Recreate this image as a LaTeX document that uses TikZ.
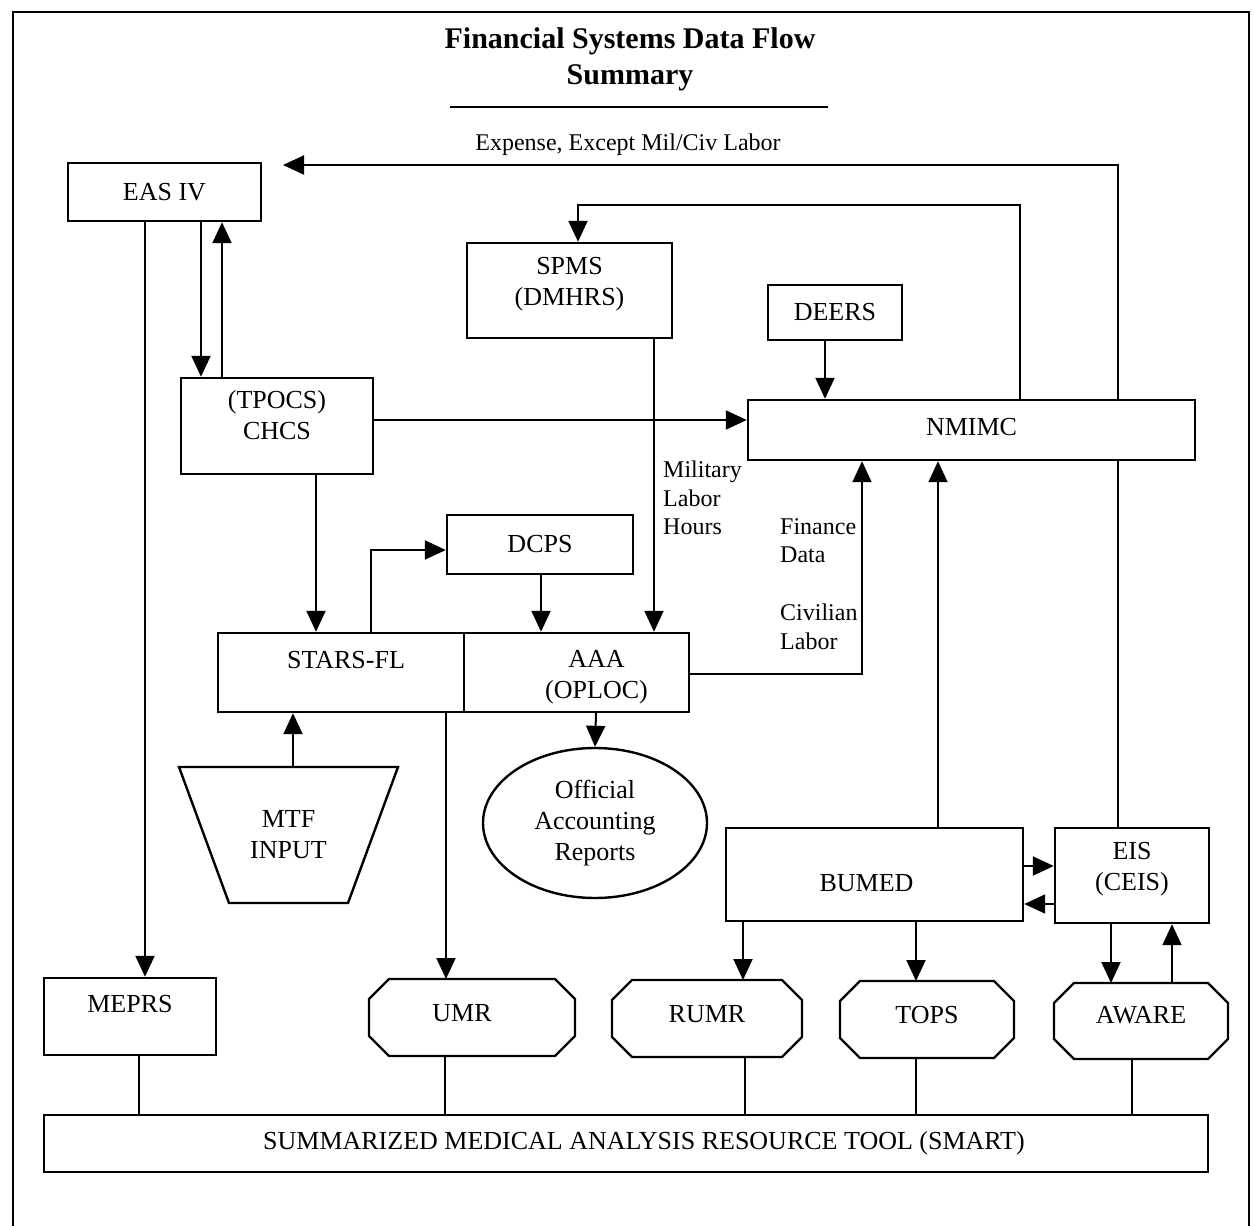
\documentclass[tikz,border=0pt]{standalone}
\usepackage{fontspec}
\setmainfont{Liberation Serif}
\usetikzlibrary{arrows.meta,shapes.geometric,backgrounds}
\newcommand\fnt{\fontsize{26}{31}\selectfont}
\newcommand\lfnt{\fontsize{24}{28.5}\selectfont}
\newcommand\octshape[1]{\draw[boxln] ([xshift=20pt]#1.north west) -- ([xshift=-20pt]#1.north east) -- ([yshift=-20pt]#1.north east) -- ([yshift=20pt]#1.south east) -- ([xshift=-20pt]#1.south east) -- ([xshift=20pt]#1.south west) -- ([yshift=20pt]#1.south west) -- ([yshift=-20pt]#1.north west) -- cycle;}
\begin{document}
\begin{tikzpicture}[x=1pt,y=-1pt,
  box/.style={draw, fill=white, line width=2.4pt, inner sep=0pt, align=center, font=\fnt},
  hid/.style={draw=none, inner sep=0pt, outer sep=0pt, align=center, font=\fnt},
  boxln/.style={line width=2.4pt},
  arr/.style={line width=2pt, -{Triangle[length=21pt,width=19pt]}},
  ln/.style={line width=2pt},
  lbl/.style={font=\lfnt, align=left, inner sep=0pt, anchor=north west}]
\useasboundingbox (0,0) rectangle (1254,1226);
% frame
\draw[line width=2.5pt] (13,1230) -- (13,12) -- (1249,12) -- (1249,1230);
% title
\node[font=\fontsize{30}{36}\selectfont\bfseries, anchor=base, inner sep=0pt] (t1) at (630,48) {Financial Systems Data Flow};
\node[font=\fontsize{30}{36}\selectfont\bfseries, anchor=base, inner sep=0pt] (t2) at (630,84) {Summary};
\draw[line width=2pt] (450,107) -- (828,107);
\node[font=\lfnt, inner sep=0pt] (explbl) at (628,145) {Expense, Except Mil/Civ Labor};

% boxes
\node[box, minimum width=193pt, minimum height=58pt] (eas) at (164.5,192) {EAS IV};
\node[box, minimum width=205pt, minimum height=95pt, text depth=18pt] (spms) at (569.5,290.5) {SPMS\\(DMHRS)};
\node[box, minimum width=134pt, minimum height=55pt] (deers) at (835,312.5) {DEERS};
\node[box, minimum width=447pt, minimum height=60pt, text depth=6pt] (nmimc) at (971.5,430) {NMIMC};
\node[box, minimum width=192pt, minimum height=96pt, text depth=22pt] (tpocs) at (277,426) {(TPOCS)\\CHCS};
\node[box, minimum width=186pt, minimum height=59pt] (dcps) at (540,544.5) {DCPS};
\node[box, minimum width=246pt, minimum height=79pt, text depth=26pt] (stars) at (341,672.5) {\hspace*{10pt}STARS-FL};
\node[box, minimum width=225pt, minimum height=79pt,
  label={[font=\fnt, align=center, inner sep=0pt, xshift=20pt, yshift=-5pt]center:AAA\\(OPLOC)}] (aaa) at (576.5,672.5) {};
\node[box, ellipse, minimum width=224pt, minimum height=150pt] (oar) at (595,823) {Official\\Accounting\\Reports};
\node[hid, minimum width=219pt, minimum height=136pt] (mtf) at (288.5,835) {MTF\\INPUT};
\draw[boxln] (mtf.north west) -- (mtf.north east) -- ([xshift=-50pt]mtf.south east) -- ([xshift=50pt]mtf.south west) -- cycle;
\node[box, minimum width=297pt, minimum height=93pt, text height=34pt] (bumed) at (874.5,874.5) {\hspace*{-16pt}BUMED};
\node[box, minimum width=154pt, minimum height=95pt, text depth=18pt] (eis) at (1132,875.5) {EIS\\(CEIS)};
\node[box, minimum width=172pt, minimum height=77pt, text depth=26pt] (meprs) at (130,1016.5) {MEPRS};
\node[hid, minimum width=206pt, minimum height=77pt, text depth=10pt] (umr) at (472,1017.5) {\hspace*{-20pt}UMR};
\node[hid, minimum width=190pt, minimum height=77pt, text depth=10pt] (rumr) at (707,1018.5) {RUMR};
\node[hid, minimum width=174pt, minimum height=77pt, text depth=10pt] (tops) at (927,1019.5) {TOPS};
\node[hid, minimum width=174pt, minimum height=76pt, text depth=12pt] (aware) at (1141,1021) {AWARE};
\octshape{umr}
\octshape{rumr}
\octshape{tops}
\octshape{aware}
\node[box, minimum width=1164pt, minimum height=57pt] (smart) at (626,1143.5) {\hspace*{36pt}SUMMARIZED MEDICAL ANALYSIS RESOURCE TOOL (SMART)};

% labels
\node[lbl] (mil) at (663,461) {Military\\Labor\\Hours};
\node[lbl] (fin) at (780,518) {Finance\\Data};
\node[lbl] (civ) at (780,604) {Civilian\\Labor};

\coordinate (expend) at (283,165);

\begin{pgfonlayer}{background}
\draw[arr] (eis.north -| 1118,0) |- (expend);
\draw[arr] (nmimc.north -| 1020,0) |- (578,205) -- (spms.north -| 578,0);
\draw[arr] (deers.south -| 825,0) -- (nmimc.north -| 825,0);
\draw[arr] (tpocs.east |- 0,420) -- (nmimc.west |- 0,420);
\draw[arr] (eas.south -| 201,0) -- (tpocs.north -| 201,0);
\draw[arr] (tpocs.north -| 222,0) -- (eas.south -| 222,0);
\draw[arr] (eas.south -| 145,0) -- (meprs.north -| 145,0);
\draw[arr] (tpocs.south -| 316,0) -- (stars.north -| 316,0);
\draw[arr] (stars.north -| 371,0) |- (dcps.west |- 0,550);
\draw[arr] (dcps.south -| 541,0) -- (aaa.north -| 541,0);
\draw[arr] (spms.south -| 654,0) -- (aaa.north -| 654,0);
\draw[arr] (aaa.east |- 0,674) -| (nmimc.south -| 862,0);
\draw[arr] (aaa.south -| 596,0) -- (oar.north);
\draw[arr] (mtf.north -| 293,0) -- (stars.south -| 293,0);
\draw[arr] (stars.south -| 446,0) -- (umr.north -| 446,0);
\draw[arr] (bumed.north -| 938,0) -- (nmimc.south -| 938,0);
\draw[arr] (bumed.east |- 0,866) -- (eis.west |- 0,866);
\draw[arr] (eis.west |- 0,904) -- (bumed.east |- 0,904);
\draw[arr] (bumed.south -| 743,0) -- (rumr.north -| 743,0);
\draw[arr] (bumed.south -| 916,0) -- (tops.north -| 916,0);
\draw[arr] (eis.south -| 1111,0) -- (aware.north -| 1111,0);
\draw[arr] (aware.north -| 1172,0) -- (eis.south -| 1172,0);
\draw[ln] (meprs.south -| 139,0) -- (smart.north -| 139,0);
\draw[ln] (umr.south -| 445,0) -- (smart.north -| 445,0);
\draw[ln] (rumr.south -| 745,0) -- (smart.north -| 745,0);
\draw[ln] (tops.south -| 916,0) -- (smart.north -| 916,0);
\draw[ln] (aware.south -| 1132,0) -- (smart.north -| 1132,0);
\end{pgfonlayer}
\end{tikzpicture}
\end{document}
